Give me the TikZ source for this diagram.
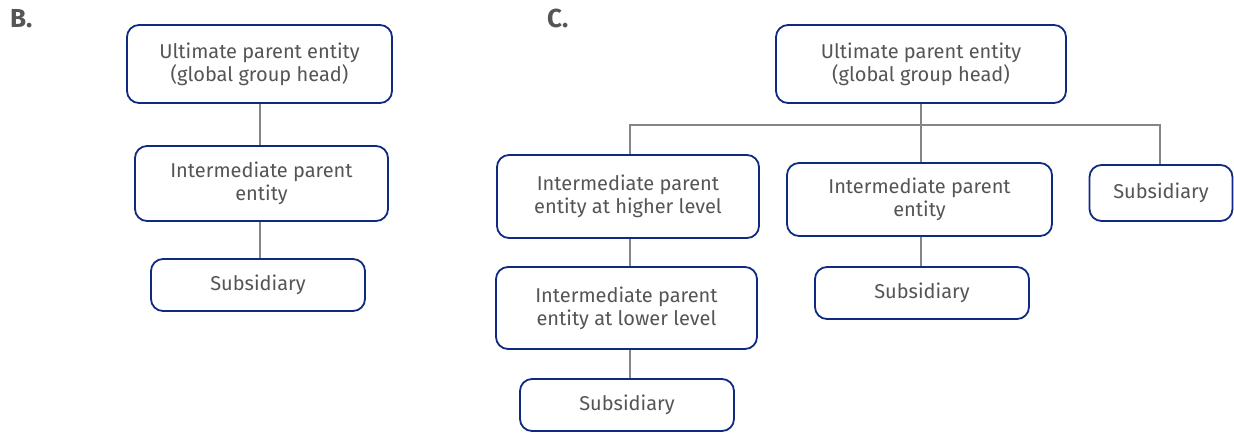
\documentclass[tikz,border=0pt]{standalone}
\usepackage{fontspec}
\setmainfont{Fira Sans}
\definecolor{boxblue}{HTML}{102A83}
\definecolor{txtgray}{HTML}{555555}
\definecolor{lngray}{HTML}{858585}
\begin{document}
\begin{tikzpicture}[x=1pt,y=-1pt,
  ent/.style={draw=boxblue, line width=1.8pt, rounded corners=12pt, fill=white,
    align=center, text=txtgray, inner sep=0pt,
    font=\fontsize{20}{23}\selectfont},
  conn/.style={draw=lngray, line width=2pt},
  paneltitle/.style={text=txtgray, font=\fontsize{26}{28}\selectfont\bfseries, inner sep=0pt, anchor=base west}]
\useasboundingbox (0,0) rectangle (1234,432);
% panel labels
\node[paneltitle] (lb) at (10,27) {B.};
\node[paneltitle] (lc) at (547,27) {C.};
% panel B
\node[ent, minimum width=265pt, minimum height=78pt] (bTop) at (259.5,64) {Ultimate parent entity\\(global group head)};
\node[ent, minimum width=253pt, minimum height=75pt] (bMid) at (261.5,183.5) {Intermediate parent\\entity};
\node[ent, minimum width=214pt, minimum height=52pt] (bSub) at (258,285) {Subsidiary};
\draw[conn] (bTop.south) -- (bTop.south |- bMid.north);
\draw[conn] (bTop.south |- bMid.south) -- (bTop.south |- bSub.north);
% panel C
\node[ent, minimum width=290pt, minimum height=78pt] (cTop) at (921,64) {Ultimate parent entity\\(global group head)};
\node[ent, minimum width=262pt, minimum height=83pt] (cH) at (628,196.5) {Intermediate parent\\entity at higher level};
\node[ent, minimum width=261pt, minimum height=82pt] (cL) at (626.5,308) {Intermediate parent\\entity at lower level};
\node[ent, minimum width=214pt, minimum height=52pt] (cLS) at (627,405) {Subsidiary};
\node[ent, minimum width=265pt, minimum height=73pt] (cM) at (919.5,199.5) {Intermediate parent\\entity};
\node[ent, minimum width=214pt, minimum height=52pt] (cMS) at (922,293) {Subsidiary};
\node[ent, minimum width=143pt, minimum height=56pt] (cR) at (1161,193) {Subsidiary};
\coordinate (busL) at (630,125);
\coordinate (busR) at (1160,125);
\draw[conn] (cTop.south) -- (cTop.south |- cM.north);
\draw[conn] (busL |- cH.north) -- (busL) -- (busR) -- (busR |- cR.north);
\draw[conn] (busL |- cH.south) -- (busL |- cL.north);
\draw[conn] (busL |- cL.south) -- (busL |- cLS.north);
\draw[conn] (cTop.south |- cM.south) -- (cTop.south |- cMS.north);
\end{tikzpicture}
\end{document}
